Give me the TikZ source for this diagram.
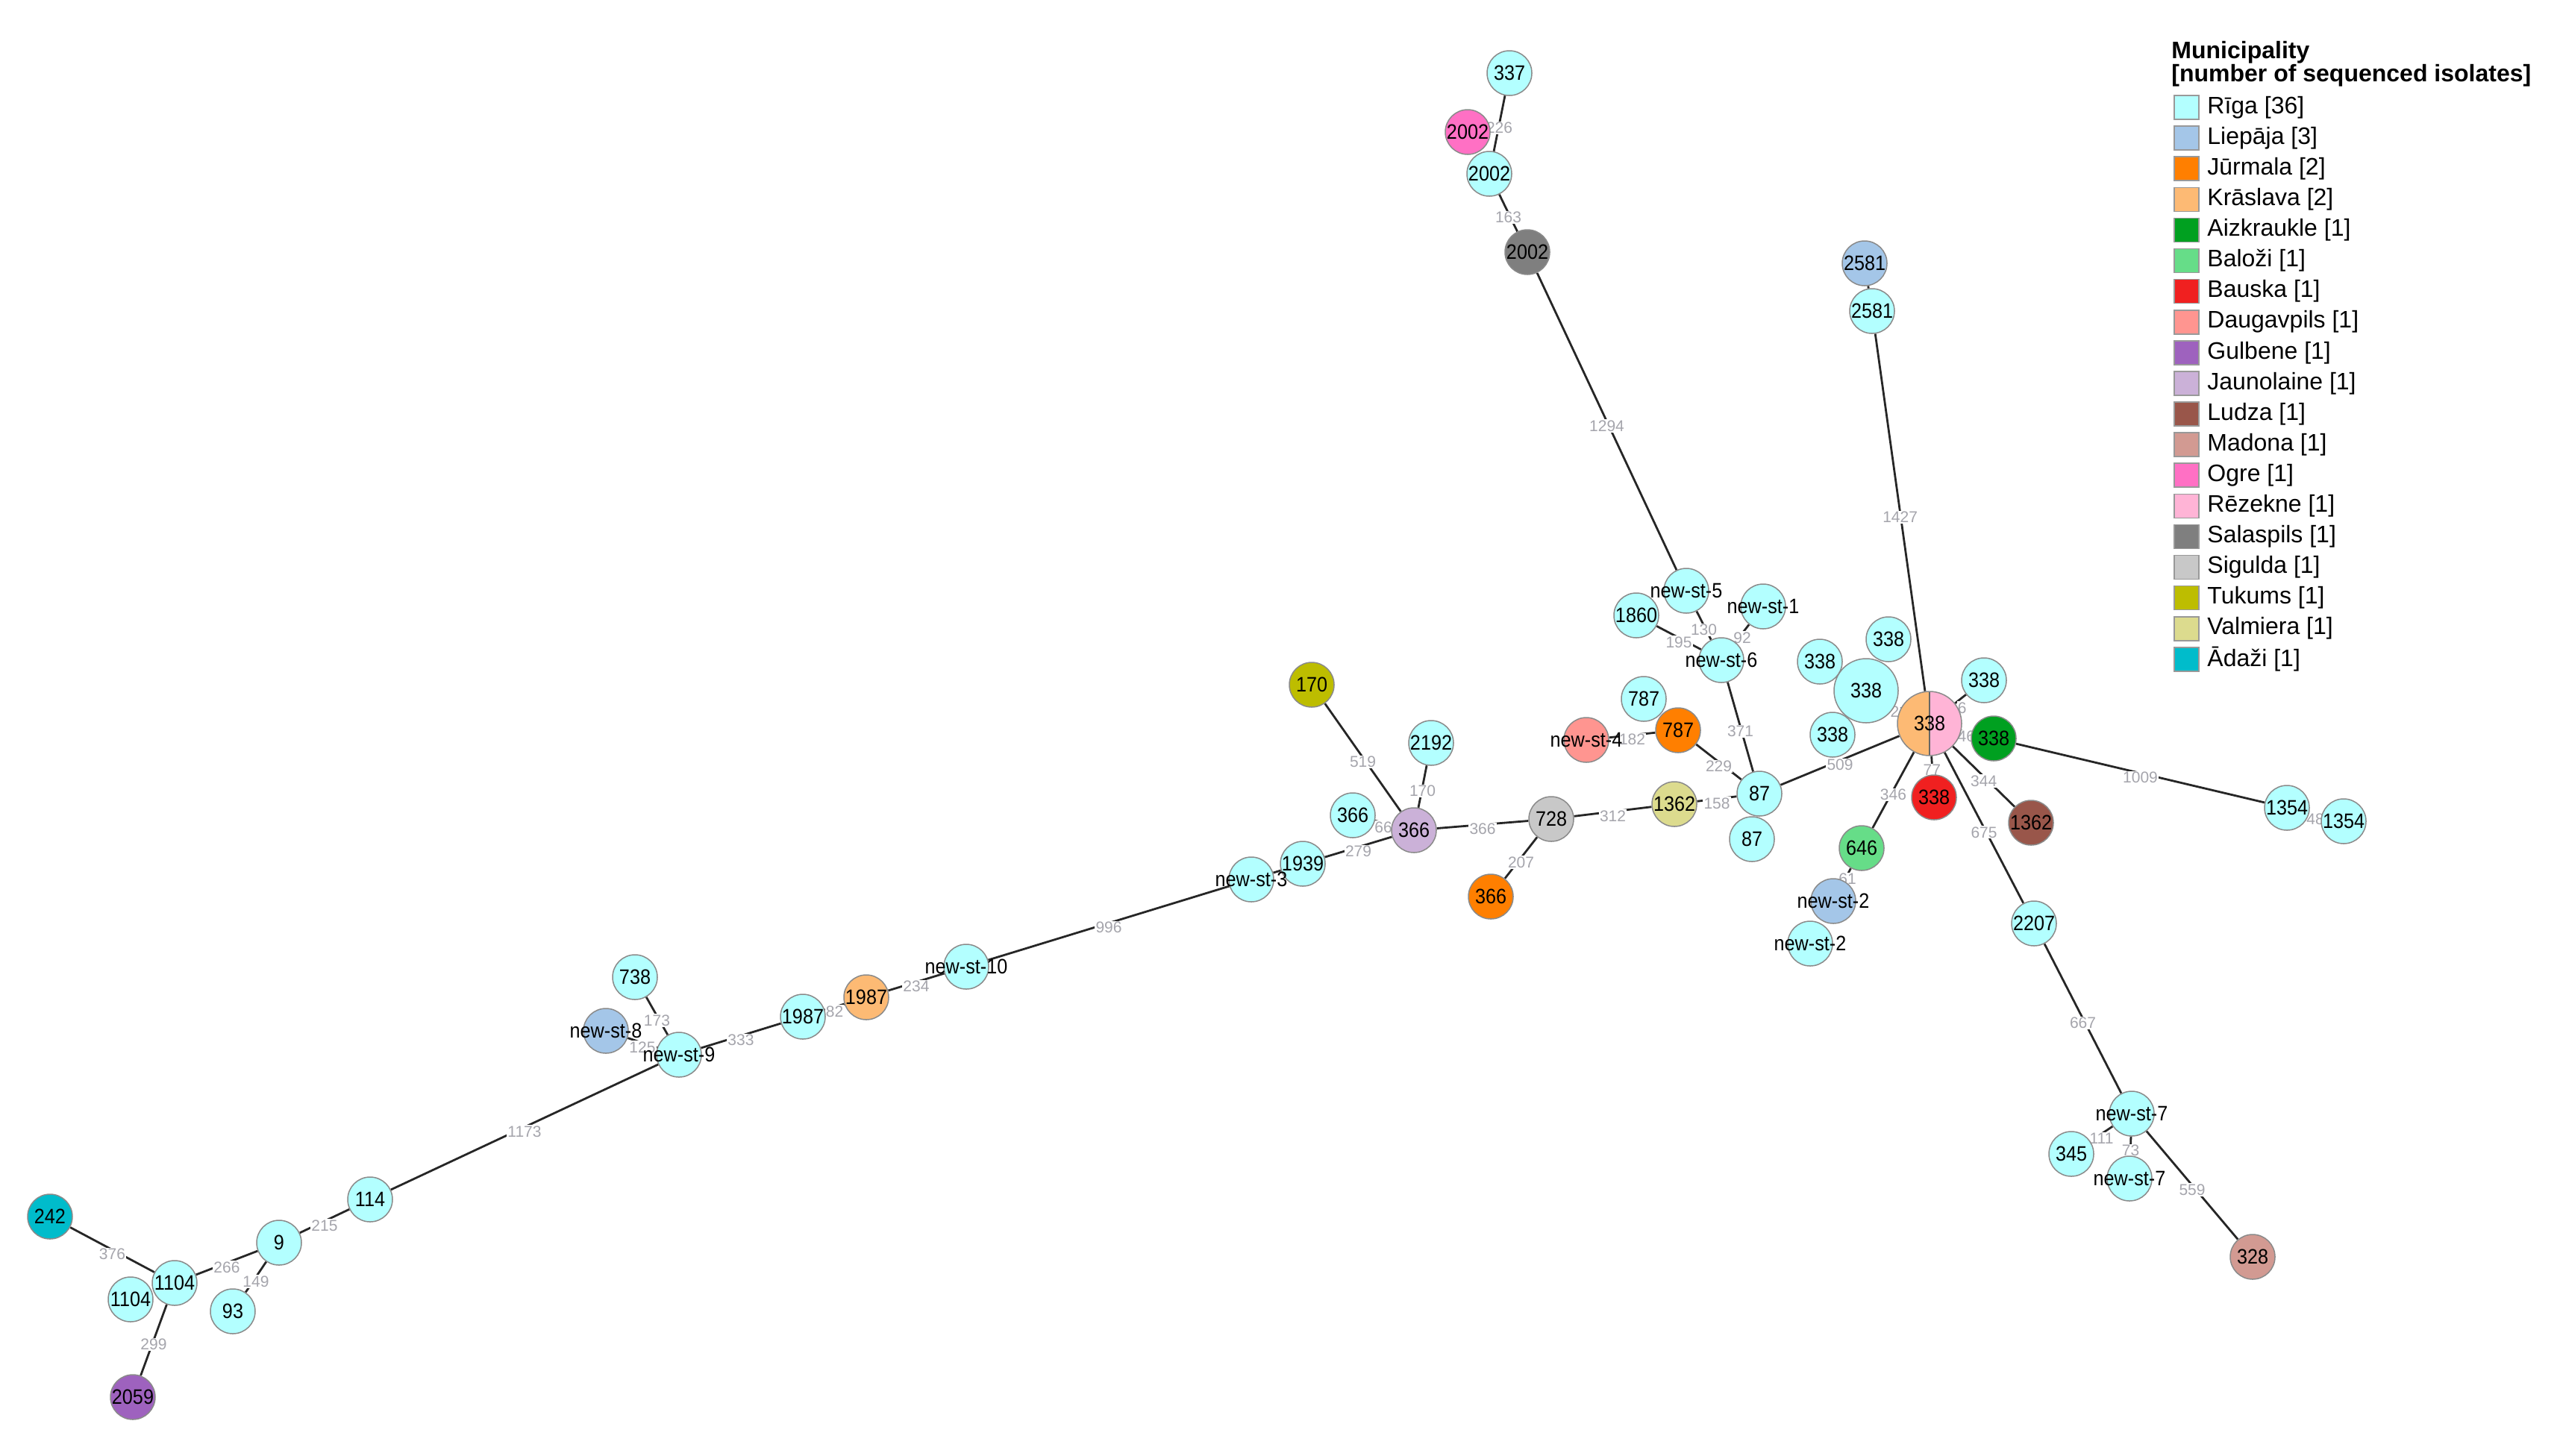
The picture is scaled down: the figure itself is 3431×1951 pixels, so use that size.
\documentclass[tikz,border=0pt]{standalone}
\usepackage{fontspec}
\setmainfont{Liberation Sans}
\newfontfamily\nodefont[FakeStretch=0.9]{Liberation Sans}
\usetikzlibrary{backgrounds}
\pgfdeclarelayer{fg}
\pgfsetlayers{background,main,fg}
\definecolor{riga}{HTML}{B3FFFF}
\definecolor{liep}{HTML}{A4C6E8}
\definecolor{jurm}{HTML}{FF7F00}
\definecolor{krasl}{HTML}{FDBA74}
\definecolor{aizk}{HTML}{00A020}
\definecolor{baloz}{HTML}{66DD88}
\definecolor{bausk}{HTML}{F02020}
\definecolor{daug}{HTML}{FF9590}
\definecolor{gulb}{HTML}{9E62BE}
\definecolor{jaun}{HTML}{CBB1D8}
\definecolor{ludza}{HTML}{99564A}
\definecolor{madona}{HTML}{D29A92}
\definecolor{ogre}{HTML}{FF70C4}
\definecolor{rezek}{HTML}{FFB4D6}
\definecolor{salas}{HTML}{7F7F7F}
\definecolor{sig}{HTML}{C8C8C8}
\definecolor{tuk}{HTML}{BDBD00}
\definecolor{valm}{HTML}{DCDB8E}
\definecolor{adazi}{HTML}{00BCCB}
\definecolor{ndline}{HTML}{8A8A8A}
\definecolor{elc}{RGB}{165,165,172}
\tikzset{
  nd/.style={circle, draw=ndline, line width=0.75pt, minimum size=30pt, inner sep=0pt},
  bignd/.style={nd, minimum size=43pt},
  ntx/.style={inner sep=0pt, font=\nodefont\fontsize{14}{14}\selectfont, text=black},
  ln/.style={line width=1.4pt, draw=black!85},
  el/.style={fill=white, inner sep=0.6pt, text=elc, font=\fontsize{10.5}{10.5}\selectfont, yshift=-3pt},
  lgbox/.style={draw=black!40, line width=0.8pt, minimum width=16.5pt, minimum height=16pt, inner sep=0pt},
  lgtx/.style={anchor=west, inner sep=0pt, font=\fontsize{16}{16}\selectfont},
  lgtitle/.style={anchor=west, inner sep=0pt, font=\bfseries\fontsize{16}{16}\selectfont},
}
\newcommand\mstnode[5]{\node[nd,#4] (#1) at (#2,#3) {};\begin{pgfonlayer}{fg}\node[ntx] (#1t) at (#1) {#5};\end{pgfonlayer}}
\begin{document}
\begin{tikzpicture}[x=0.5pt,y=-0.5pt]
\useasboundingbox (0,0) rectangle (3431,1951);
% ---- nodes (drawn order matters for overlaps)
\mstnode{n337}{2023}{98}{fill=riga}{337}
\mstnode{n2002o}{1967}{177}{fill=ogre}{2002}
\mstnode{n2002r}{1996}{233}{fill=riga}{2002}
\mstnode{n2002s}{2047}{338}{fill=salas}{2002}
\mstnode{n2581l}{2499}{353}{fill=liep}{2581}
\mstnode{n2581r}{2509}{417}{fill=riga}{2581}
\mstnode{nst5}{2260}{792}{fill=riga}{new-st-5}
\mstnode{n1860}{2193}{825}{fill=riga}{1860}
\mstnode{nst1}{2363}{813}{fill=riga}{new-st-1}
\mstnode{nst6}{2307}{885}{fill=riga}{new-st-6}
\mstnode{t338a}{2531}{857}{fill=riga}{338}
\mstnode{t338b}{2439}{887}{fill=riga}{338}
\mstnode{l338}{2456}{985}{fill=riga}{338}
\mstnode{r338}{2659}{912}{fill=riga}{338}
\mstnode{big338}{2501}{926}{bignd,fill=riga}{338}
\node[bignd, path picture={
  \fill[krasl] (path picture bounding box.north west) rectangle (path picture bounding box.south);
  \fill[rezek] (path picture bounding box.north) rectangle (path picture bounding box.south east);
  \draw[black!60, line width=0.6pt] (path picture bounding box.north) -- (path picture bounding box.south);
}] (pie) at (2586,970) {};
\begin{pgfonlayer}{fg}\node[ntx] (piet) at (pie) {338};\end{pgfonlayer}
\mstnode{g338}{2672}{990}{fill=aizk}{338}
\mstnode{n787r}{2203}{937}{fill=riga}{787}
\mstnode{n787o}{2249}{979}{fill=jurm}{787}
\mstnode{nst4}{2126}{992}{fill=daug}{new-st-4}
\mstnode{n87b}{2348}{1125}{fill=riga}{87}
\mstnode{n87}{2358}{1064}{fill=riga}{87}
\mstnode{n1362v}{2244}{1078}{fill=valm}{1362}
\mstnode{b338}{2592}{1069}{fill=bausk}{338}
\mstnode{n1362l}{2722}{1103}{fill=ludza}{1362}
\mstnode{n646}{2495}{1137}{fill=baloz}{646}
\mstnode{nst2r}{2426}{1265}{fill=riga}{new-st-2}
\mstnode{nst2l}{2457}{1208}{fill=liep}{new-st-2}
\mstnode{n1354a}{3065}{1083}{fill=riga}{1354}
\mstnode{n1354b}{3141}{1101}{fill=riga}{1354}
\mstnode{n2207}{2726}{1238}{fill=riga}{2207}
\mstnode{nst7a}{2857}{1493}{fill=riga}{new-st-7}
\mstnode{n345}{2776}{1547}{fill=riga}{345}
\mstnode{nst7b}{2854}{1580}{fill=riga}{new-st-7}
\mstnode{n328}{3019}{1685}{fill=madona}{328}
\mstnode{n2192}{1918}{996}{fill=riga}{2192}
\mstnode{n366r}{1813}{1093}{fill=riga}{366}
\mstnode{n366j}{1895}{1113}{fill=jaun}{366}
\mstnode{n728}{2079}{1098}{fill=sig}{728}
\mstnode{n366o}{1998}{1202}{fill=jurm}{366}
\mstnode{n170}{1758}{918}{fill=tuk}{170}
\mstnode{nst3}{1677}{1179}{fill=riga}{new-st-3}
\mstnode{n1939}{1746}{1158}{fill=riga}{1939}
\mstnode{nst10}{1295}{1296}{fill=riga}{new-st-10}
\mstnode{n1987r}{1076}{1363}{fill=riga}{1987}
\mstnode{n1987o}{1161}{1337}{fill=krasl}{1987}
\mstnode{n738}{851}{1310}{fill=riga}{738}
\mstnode{nst8}{812}{1382}{fill=liep}{new-st-8}
\mstnode{nst9}{910}{1414}{fill=riga}{new-st-9}
\mstnode{n114}{496}{1608}{fill=riga}{114}
\mstnode{n9}{374}{1666}{fill=riga}{9}
\mstnode{n93}{312}{1758}{fill=riga}{93}
\mstnode{n1104b}{175}{1742}{fill=riga}{1104}
\mstnode{n1104}{234}{1720}{fill=riga}{1104}
\mstnode{n242}{67}{1631}{fill=adazi}{242}
\mstnode{n2059}{178}{1873}{fill=gulb}{2059}
% ---- connectors
\begin{pgfonlayer}{background}
\draw[ln] (n337) -- node[el]{226} (n2002r);
\draw[ln] (n2002r) -- node[el]{163} (n2002s);
\draw[ln] (n2002s) -- node[el]{1294} (nst5);
\draw[ln] (nst5) -- node[el]{130} (nst6);
\draw[ln] (n1860) -- node[el]{195} (nst6);
\draw[ln] (nst1) -- node[el]{92} (nst6);
\draw[ln] (nst6) -- node[el]{371} (n87);
\draw[ln] (n787o) -- node[el]{229} (n87);
\draw[ln] (nst4) -- node[el]{182} (n787o);
\draw[ln] (n1362v) -- node[el]{158} (n87);
\draw[ln] (n728) -- node[el]{312} (n1362v);
\draw[ln] (n366j) -- node[el]{366} (n728);
\draw[ln] (n728) -- node[el]{207} (n366o);
\draw[ln] (n170) -- node[el]{519} (n366j);
\draw[ln] (n2192) -- node[el]{170} (n366j);
\draw[ln] (n366r) -- node[el]{66} (n366j);
\draw[ln] (n1939) -- node[el]{279} (n366j);
\draw[ln] (nst3) -- (n1939);
\draw[ln] (nst10) -- node[el]{996} (nst3);
\draw[ln] (n1987o) -- node[el]{234} (nst10);
\draw[ln] (n1987r) -- node[el]{82} (n1987o);
\draw[ln] (nst9) -- node[el]{333} (n1987r);
\draw[ln] (n738) -- node[el]{173} (nst9);
\draw[ln] (nst8) -- node[el]{125} (nst9);
\draw[ln] (n114) -- node[el]{1173} (nst9);
\draw[ln] (n9) -- node[el]{215} (n114);
\draw[ln] (n1104) -- node[el]{266} (n9);
\draw[ln] (n9) -- node[el]{149} (n93);
\draw[ln] (n242) -- node[el]{376} (n1104);
\draw[ln] (n1104) -- node[el]{299} (n2059);
\draw[ln] (n87) -- node[el]{509} (pie);
\draw[ln] (n2581l) -- (n2581r);
\draw[ln] (n2581r) -- node[el]{1427} (pie);
\draw[ln] (big338) -- node[el, xshift=-2pt]{2} (pie);
\draw[ln] (pie) -- node[el, xshift=1pt, yshift=-3pt]{6} (r338);
\draw[ln] (pie) -- node[el]{46} (g338);
\draw[ln] (g338) -- node[el]{1009} (n1354a);
\draw[ln] (n1354a) -- node[el]{48} (n1354b);
\draw[ln] (pie) -- node[el]{77} (b338);
\draw[ln] (pie) -- node[el]{344} (n1362l);
\draw[ln] (pie) -- node[el]{675} (n2207);
\draw[ln] (n2207) -- node[el]{667} (nst7a);
\draw[ln] (nst7a) -- node[el]{111} (n345);
\draw[ln] (nst7a) -- node[el]{73} (nst7b);
\draw[ln] (nst7a) -- node[el]{559} (n328);
\draw[ln] (pie) -- node[el]{346} (n646);
\draw[ln] (n646) -- node[el]{61} (nst2l);
\end{pgfonlayer}
% ---- legend
\node[lgtitle] (lgtitle1) at (2910,70) {Municipality};
\node[lgtitle] (lgtitle2) at (2910,101) {[number of sequenced isolates]};
\foreach \c/\t [count=\i from 0] in {riga/Rīga [36], liep/Liepāja [3], jurm/Jūrmala [2], krasl/Krāslava [2], aizk/Aizkraukle [1], baloz/Baloži [1], bausk/Bauska [1], daug/Daugavpils [1], gulb/Gulbene [1], jaun/Jaunolaine [1], ludza/Ludza [1], madona/Madona [1], ogre/Ogre [1], rezek/Rēzekne [1], salas/Salaspils [1], sig/Sigulda [1], tuk/Tukums [1], valm/Valmiera [1], adazi/Ādaži [1]}{
  \node[lgbox, fill=\c] (lgb\i) at (2930.5,{144+41.1*\i}) {};
  \node[lgtx] (lgt\i) at (2958,{144+41.1*\i}) {\t};
}
\end{tikzpicture}
\end{document}
